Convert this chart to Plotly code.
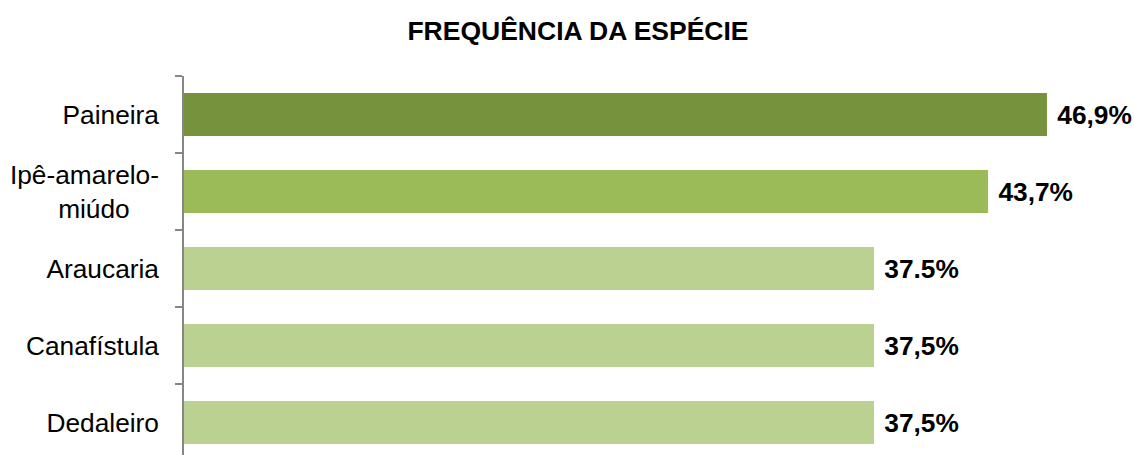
import plotly.graph_objects as go

categories = ["Paineira", "Ipê-amarelo-<br>miúdo\u00a0\u00a0\u00a0\u00a0", "Araucaria", "Canafístula", "Dedaleiro"]
values = [46.9, 43.7, 37.5, 37.5, 37.5]
value_labels = ["46,9%", "43,7%", "37.5%", "37,5%", "37,5%"]
bar_colors = ["#76923C", "#9BBB59", "#BBD192", "#BBD192", "#BBD192"]
title_text = "FREQUÊNCIA DA ESPÉCIE"

FONT = "Liberation Sans, Arial, sans-serif"

fig = go.Figure(
    go.Bar(
        y=categories,
        x=values,
        orientation="h",
        marker=dict(color=bar_colors, line=dict(width=0)),
        text=["\u00a0" + t for t in value_labels],
        textposition="outside",
        textfont=dict(family=FONT, size=26.3, color="#000000", weight="bold"),
        constraintext="none",
        cliponaxis=False,
        hoverinfo="skip",
    )
)

fig.update_layout(
    width=1134,
    height=455,
    margin=dict(l=184, r=30, t=76, b=0, autoexpand=False),
    paper_bgcolor="white",
    plot_bgcolor="white",
    bargap=0.44,
    showlegend=False,
    title=dict(
        text="<b>" + title_text + "</b>",
        font=dict(family=FONT, size=26.5, color="#000000"),
        x=578 / 1134,
        xref="container",
        xanchor="center",
        y=1 - 31 / 455,
        yref="container",
        yanchor="middle",
    ),
    xaxis=dict(range=[0, 50], visible=False),
    yaxis=dict(
        type="category",
        range=[4.422, -0.5],
        automargin=False,
        showline=True,
        linecolor="#868686",
        linewidth=1.5,
        ticks="outside",
        tickson="boundaries",
        ticklen=7,
        tickcolor="#868686",
        tickwidth=1.5,
        ticklabelstandoff=18,
        tickfont=dict(family=FONT, size=26.3, color="#000000"),
        showgrid=False,
        zeroline=False,
    ),
)

fig.write_html(
    "out.html",
    config={"displayModeBar": False},
    post_script="document.body.style.margin='0';document.body.style.overflow='hidden';",
)
